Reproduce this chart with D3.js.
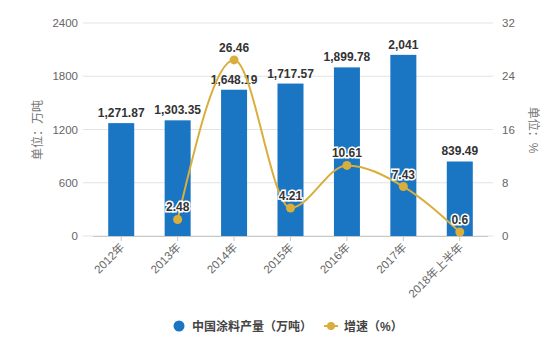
<!DOCTYPE html>
<html><head><meta charset="utf-8">
<script src="https://cdn.jsdelivr.net/npm/d3@7"></script>
<style>body{margin:0;background:#fff}svg{display:block;font-family:"Liberation Sans",Arial,"Noto Sans CJK SC",sans-serif}</style>
</head><body><svg id="c" width="558" height="355"></svg>
<script>
const categories = ["2012年","2013年","2014年","2015年","2016年","2017年","2018年上半年"];
const output = [1271.87,1303.35,1648.19,1717.57,1899.78,2041,839.49];
const outputLabels = ["1,271.87","1,303.35","1,648.19","1,717.57","1,899.78","2,041","839.49"];
const growth = [null,2.48,26.46,4.21,10.61,7.43,0.6];
const leftTicks = [0,600,1200,1800,2400];
const rightTicks = [0,8,16,24,32];

const svg = d3.select("#c");
const barColor = "#1a75c2", lineColor = "#d9ae3c";
const x = d3.scaleBand().domain(categories).range([93,488]);
const yL = d3.scaleLinear().domain([0,2400]).range([236,23]);
const yR = d3.scaleLinear().domain([0,32]).range([236,23]);

// grid
svg.append("g").selectAll("line").data(leftTicks).join("line")
  .attr("x1",83).attr("x2",493).attr("y1",d=>yL(d)).attr("y2",d=>yL(d))
  .attr("stroke","#e3e3e3").attr("stroke-width",1);
svg.append("line").attr("x1",93).attr("x2",488).attr("y1",yL(0)+0.5).attr("y2",yL(0)+0.5).attr("stroke","#c8c8c8");

// axis labels
svg.append("g").selectAll("text").data(leftTicks).join("text")
  .attr("x",78).attr("y",d=>yL(d)+4).attr("text-anchor","end")
  .attr("font-size",11.5).attr("fill","#666").text(d=>d);
svg.append("g").selectAll("text").data(rightTicks).join("text")
  .attr("x",502).attr("y",d=>yR(d)+4).attr("text-anchor","start")
  .attr("font-size",11.5).attr("fill","#666").text(d=>d);

// axis titles
svg.append("text").attr("transform","translate(42,130) rotate(-90)").attr("text-anchor","middle")
  .attr("font-size",12).attr("fill","#777").text("单位：万吨");
svg.append("text").attr("transform","translate(529,130) rotate(90)").attr("text-anchor","middle")
  .attr("font-size",12).attr("fill","#777").text("单位：%");

// ticks
svg.append("g").selectAll("line").data(categories).join("line")
  .attr("x1",d=>x(d)+x.bandwidth()/2).attr("x2",d=>x(d)+x.bandwidth()/2)
  .attr("y1",yL(0)).attr("y2",yL(0)+5).attr("stroke","#c8c8c8");
// x labels
svg.append("g").selectAll("text").data(categories).join("text")
  .attr("transform",d=>`translate(${x(d)+x.bandwidth()/2+4},${yL(0)+12}) rotate(-45)`)
  .attr("text-anchor","end").attr("font-size",11.5).attr("fill","#666").text(d=>d);

// bars
const bw = 26;
svg.append("g").selectAll("rect").data(output).join("rect")
  .attr("x",(d,i)=>x(categories[i])+x.bandwidth()/2-bw/2).attr("width",bw)
  .attr("y",d=>yL(d)).attr("height",d=>yL(0)-yL(d)).attr("fill",barColor);
svg.append("g").selectAll("text").data(output).join("text")
  .attr("x",(d,i)=>x(categories[i])+x.bandwidth()/2).attr("y",d=>yL(d)-6)
  .attr("text-anchor","middle").attr("font-size",12).attr("font-weight","bold").attr("fill","#333")
  .text((d,i)=>outputLabels[i]);

// line
const pts = growth.map((v,i)=>({v,c:categories[i]})).filter(p=>p.v!==null);
const line = d3.line().x(p=>x(p.c)+x.bandwidth()/2).y(p=>yR(p.v)).curve(d3.curveMonotoneX);
svg.append("path").datum(pts).attr("d",line).attr("fill","none").attr("stroke",lineColor).attr("stroke-width",2);
svg.append("g").selectAll("circle").data(pts).join("circle")
  .attr("cx",p=>x(p.c)+x.bandwidth()/2).attr("cy",p=>yR(p.v)).attr("r",4.5).attr("fill",lineColor);
svg.append("g").selectAll("text").data(pts).join("text")
  .attr("x",p=>x(p.c)+x.bandwidth()/2).attr("y",p=>yR(p.v)-8)
  .attr("text-anchor","middle").attr("font-size",12).attr("font-weight","bold").attr("fill","#333")
  .attr("stroke","#fff").attr("stroke-width",3).attr("paint-order","stroke")
  .text(p=>p.v);

// legend
svg.append("circle").attr("cx",179).attr("cy",326).attr("r",5.5).attr("fill",barColor);
svg.append("text").attr("x",192).attr("y",330.5).attr("font-size",12).attr("font-weight","bold").attr("fill","#444").text("中国涂料产量（万吨）");
svg.append("line").attr("x1",324).attr("x2",338).attr("y1",326).attr("y2",326).attr("stroke",lineColor).attr("stroke-width",2);
svg.append("circle").attr("cx",331).attr("cy",326).attr("r",4).attr("fill",lineColor);
svg.append("text").attr("x",344).attr("y",330.5).attr("font-size",12).attr("font-weight","bold").attr("fill","#444").text("增速（%）");
</script></body></html>
